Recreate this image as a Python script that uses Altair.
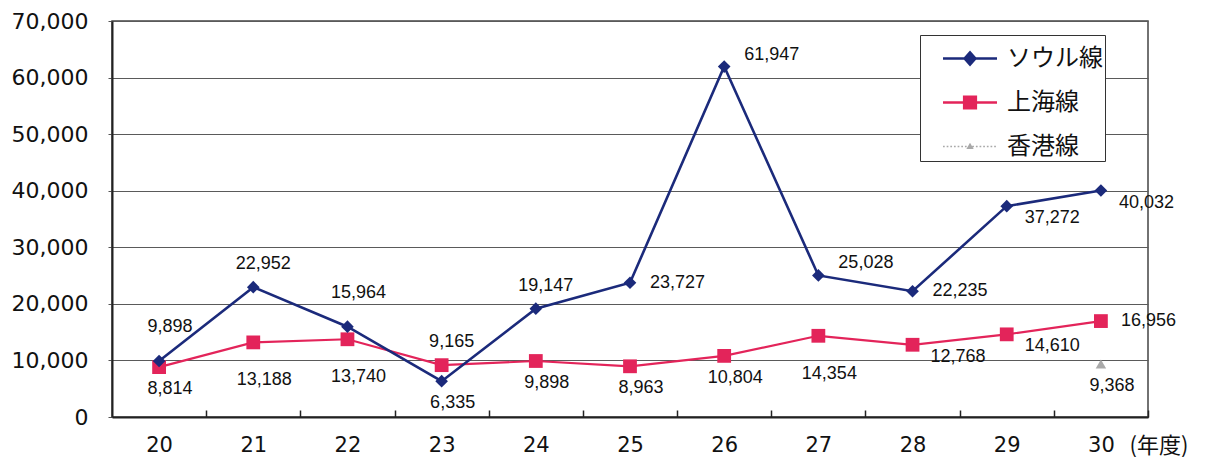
import altair as alt
import pandas as pd

# ---------------- data ----------------
years = [20, 21, 22, 23, 24, 25, 26, 27, 28, 29, 30]
seoul = [9898, 22952, 15964, 6335, 19147, 23727, 61947, 25028, 22235, 37272, 40032]
shanghai = [8814, 13188, 13740, 9165, 9898, 8963, 10804, 14354, 12768, 14610, 16956]
hongkong_years = [30]
hongkong = [9368]
series_names = ["ソウル線", "上海線", "香港線"]
y_ticks = [0, 10000, 20000, 30000, 40000, 50000, 60000, 70000]
x_title = "(年度)"

# label placement category for each value label
seoul_label_place = ["above_high", "above", "above_high", "below", "above", "right",
                     "upright", "upright", "right", "downright", "downright"]
shanghai_label_place = ["below", "below_low", "below_low", "above", "below", "below",
                        "below", "below_low", "downright", "downright", "right"]
hongkong_label_place = ["below"]

# ---------------- styles ----------------
COLORS = {"ソウル線": "#1b2a7b", "上海線": "#e3245a", "香港線": "#a9a9a9"}
PLACEMENTS = {
    "above": ("center", 10, -23),
    "above_high": ("center", 11, -34),
    "below": ("center", 11, 22),
    "below_low": ("center", 11, 38),
    "right": ("left", 20, 0),
    "upright": ("left", 20, -12),
    "downright": ("left", 18, 12),
}

rows = []
for name, xs, vals, places in [
    (series_names[0], years, seoul, seoul_label_place),
    (series_names[1], years, shanghai, shanghai_label_place),
    (series_names[2], hongkong_years, hongkong, hongkong_label_place),
]:
    for yr, v, p in zip(xs, vals, places):
        rows.append({"year": yr, "series": name, "value": v, "place": p})
df = pd.DataFrame(rows)

# legend symbol paths (unit coords, scaled by sqrt(size)/2)
c = 1.233


def f(v):
    return f"{v:.3f}"


line_rect = f"M{f(c-1.256)},-0.06H{f(c+1.256)}V0.06H{f(c-1.256)}Z"
diamond_path = line_rect + f"M{f(c)},-0.37L{f(c+0.33)},0L{f(c)},0.37L{f(c-0.33)},0Z"
square_path = line_rect + f"M{f(c-0.33)},-0.33H{f(c+0.33)}V0.33H{f(c-0.33)}Z"
dash_parts = []
xpos = c - 1.256
while xpos < c + 1.2:
    dash_parts.append(f"M{f(xpos)},-0.035H{f(xpos+0.08)}V0.035H{f(xpos)}Z")
    xpos += 0.17
tri_path = "".join(dash_parts) + f"M{f(c)},-0.17L{f(c+0.17)},0.12L{f(c-0.17)},0.12Z"
legend_paths = [diamond_path, square_path, tri_path]

# ---------------- encodings ----------------
x_scale = alt.Scale(type="point", padding=0.5)
y_scale = alt.Scale(domain=[0, 70000], nice=False)

x_label_axis = alt.Axis(
    orient="bottom",
    title=x_title, titleX=1017, titleY=28, titleAlign="left", titleBaseline="middle",
    titleAngle=0, titleFont="Noto Sans CJK JP", titleFontSize=22, titleFontWeight="normal",
    titleColor="#111",
    labelAngle=0, labelFont="DejaVu Sans", labelFontSize=21, labelColor="#111",
    labelBaseline="middle", labelPadding=28, ticks=False, tickSize=0,
    domain=True, domainColor="#222", domainWidth=2, grid=False,
)
x_tick_axis = alt.Axis(
    orient="bottom",
    labels=False, ticks=True, tickSize=7, tickColor="#222", tickWidth=1.5,
    tickOffset=47.09, offset=-7, domain=False, grid=False, title=None,
)
y_axis = alt.Axis(
    values=y_ticks, format=",d", title=None,
    labelFont="DejaVu Sans", labelFontSize=22, labelColor="#111", labelPadding=20,
    tickSize=4, tickColor="#555", grid=True, gridColor="#5a5a5a", gridWidth=1,
    domain=True, domainColor="#222", domainWidth=2,
)


def X(axis=None):
    return alt.X("year:O", scale=x_scale, axis=axis)


Y = alt.Y("value:Q", scale=y_scale, axis=y_axis)

base = alt.Chart(df)

layers = []
# lines
seoul_line = base.transform_filter(alt.datum.series == series_names[0]).mark_line(
    color=COLORS[series_names[0]], strokeWidth=2.6
).encode(x=X(x_label_axis), y=Y)
shanghai_line = base.transform_filter(alt.datum.series == series_names[1]).mark_line(
    color=COLORS[series_names[1]], strokeWidth=2.2
).encode(x=X(x_tick_axis), y=Y)
layers += [shanghai_line, seoul_line]

# points
shanghai_pts = base.transform_filter(alt.datum.series == series_names[1]).mark_point(
    shape="square", filled=True, size=190, opacity=1, color=COLORS[series_names[1]]
).encode(x=X(), y=Y)
seoul_pts = base.transform_filter(alt.datum.series == series_names[0]).mark_point(
    shape="diamond", filled=True, size=160, opacity=1, color=COLORS[series_names[0]]
).encode(x=X(), y=Y)
hk_pts = base.transform_filter(alt.datum.series == series_names[2]).mark_point(
    shape="triangle-up", filled=True, size=110, opacity=1, color=COLORS[series_names[2]]
).encode(x=X(), y=Y)
layers += [shanghai_pts, seoul_pts, hk_pts]

# value labels
for key, (align, dx, dy) in PLACEMENTS.items():
    layers.append(
        base.transform_filter(alt.datum.place == key).mark_text(
            align=align, baseline="middle", dx=dx, dy=dy,
            font="Liberation Sans", fontSize=18, color="#111",
        ).encode(x=X(), y=Y, text=alt.Text("value:Q", format=","))
    )

# legend (legend-only layer, draws no marks)
legend = alt.Legend(
    title=None, orient="none", legendX=808, legendY=14,
    symbolSize=1849, symbolStrokeWidth=0,
    labelFont="Noto Sans CJK JP", labelFontSize=24, labelColor="#111",
    labelOffset=42, padding=2, rowPadding=10,
    strokeColor="#333", fillColor="white",
    labelExpr="datum.label + '\u3000'",
)
legend_layer = base.transform_filter(alt.datum.value < 0).mark_point(
    filled=True, opacity=1, strokeWidth=0
).encode(
    color=alt.Color("series:N", scale=alt.Scale(domain=series_names,
                                                range=[COLORS[n] for n in series_names]),
                    legend=legend),
    shape=alt.Shape("series:N", scale=alt.Scale(domain=series_names, range=legend_paths),
                    legend=legend),
)
layers.append(legend_layer)

chart = alt.layer(*layers).resolve_axis(x="independent").properties(
    width=1036, height=396,
    padding={"left": 104, "top": 13, "right": 57, "bottom": 40},
    autosize=alt.AutoSizeParams(type="none"),
    background="white",
    view=alt.ViewBackground(stroke="#444", strokeWidth=1.5),
)

chart.save("out.html", embed_options={"renderer": "svg", "actions": False})
